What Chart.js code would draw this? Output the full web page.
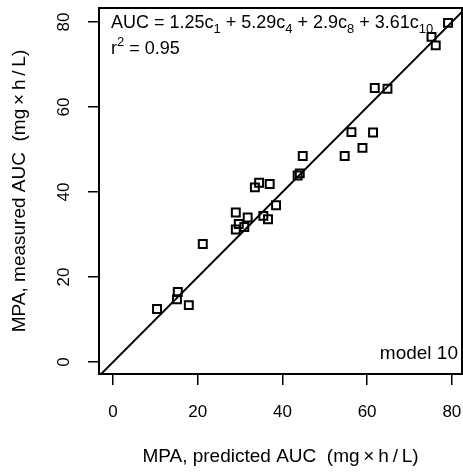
<!DOCTYPE html>
<html>
<head>
<meta charset="utf-8">
<script src="https://cdn.jsdelivr.net/npm/chart.js@4.4.1/dist/chart.umd.min.js"></script>
<style>
  html, body { margin: 0; padding: 0; background: #fff; }
</style>
</head>
<body>
<canvas id="chart" width="463" height="474"></canvas>
<script>
// predicted vs measured MPA AUC (mg x h/L)
const predicted = [79.1, 75.2, 76.2, 61.8, 64.8, 56.3, 61.4, 58.9, 54.7, 44.8,
                   43.6, 44.1, 34.5, 33.5, 37.0, 38.5, 29.0, 31.8, 35.5, 36.6,
                   29.7, 31.0, 29.0, 21.2, 15.3, 15.1, 17.9, 10.4];
const measured  = [79.8, 76.5, 74.5, 64.5, 64.3, 54.1, 54.0, 50.4, 48.5, 48.5,
                   43.9, 44.4, 42.2, 41.1, 41.9, 36.9, 35.2, 34.0, 34.4, 33.6,
                   32.5, 31.8, 31.2, 27.8, 16.5, 14.8, 13.4, 12.5];
const xTicks = [0, 20, 40, 60, 80];
const yTicks = [0, 20, 40, 60, 80];
const xRange = [-3.3, 82.4];
const yRange = [-2.8, 83.3];
const identityLine = [-10, 100];

const FONT = '"Liberation Sans", Arial, Helvetica, sans-serif';
Chart.defaults.font.family = FONT;
Chart.defaults.color = '#000';

// draw text pieces with sub/superscripts
function drawRich(ctx, x, y, parts, size) {
  parts.forEach(p => {
    const small = p.sub || p.sup;
    const fs = small ? Math.round(size * 0.7) : size;
    ctx.font = fs + 'px ' + FONT;
    const dy = p.sub ? size * 0.3 : p.sup ? -size * 0.42 : 0;
    ctx.fillText(p.t, x, y + dy);
    x += ctx.measureText(p.t).width;
  });
}

const boxAndText = {
  id: 'boxAndText',
  afterDraw(chart) {
    const ctx = chart.ctx;
    const a = chart.chartArea;
    ctx.save();
    ctx.strokeStyle = '#000';
    ctx.lineWidth = 2;
    ctx.strokeRect(a.left, a.top, a.right - a.left, a.bottom - a.top);

    ctx.fillStyle = '#000';
    ctx.textBaseline = 'alphabetic';
    ctx.textAlign = 'left';
    drawRich(ctx, 111, 28, [
      {t: 'AUC = 1.25c'}, {t: '1', sub: true},
      {t: ' + 5.29c'}, {t: '4', sub: true},
      {t: ' + 2.9c'}, {t: '8', sub: true},
      {t: ' + 3.61c'}, {t: '10', sub: true}
    ], 18);
    drawRich(ctx, 111, 54, [
      {t: 'r'}, {t: '2', sup: true}, {t: ' = 0.95'}
    ], 18);

    ctx.font = '19px ' + FONT;
    ctx.textAlign = 'right';
    ctx.fillText('model 10', 458, 359);
    ctx.restore();
  }
};

new Chart(document.getElementById('chart').getContext('2d'), {
  type: 'scatter',
  data: {
    datasets: [
      {
        label: 'observations',
        data: predicted.map((x, i) => ({x: x, y: measured[i]})),
        pointStyle: 'rect',
        pointRadius: 5.6,
        pointHoverRadius: 5.6,
        borderWidth: 2,
        borderColor: '#000',
        backgroundColor: 'rgba(0,0,0,0)'
      },
      {
        type: 'line',
        label: 'identity',
        data: identityLine.map(v => ({x: v, y: v})),
        borderColor: '#000',
        borderWidth: 2,
        pointRadius: 0,
        fill: false
      }
    ]
  },
  options: {
    responsive: false,
    animation: false,
    devicePixelRatio: 1,
    layout: { autoPadding: false, padding: { top: 8, right: 1, left: 0, bottom: 0 } },
    plugins: {
      legend: { display: false },
      tooltip: { enabled: false }
    },
    scales: {
      x: {
        type: 'linear',
        min: xRange[0],
        max: xRange[1],
        afterBuildTicks: s => { s.ticks = xTicks.map(v => ({value: v})); },
        afterFit: s => { s.height = 100; s.paddingLeft = 0; s.paddingRight = 0; },
        border: { display: false },
        grid: { drawOnChartArea: false, drawTicks: true, tickLength: 11, color: '#000', lineWidth: 1.5 },
        ticks: { color: '#000', font: { size: 17 }, padding: 17, maxRotation: 0 },
        title: {
          display: true,
          text: 'MPA, predicted AUC  (mg\u2009\u00d7\u2009h\u2009/\u2009L)',
          color: '#000',
          font: { size: 19 },
          padding: { top: 0, bottom: 6 }
        }
      },
      y: {
        type: 'linear',
        min: yRange[0],
        max: yRange[1],
        afterBuildTicks: s => { s.ticks = yTicks.map(v => ({value: v})); },
        afterFit: s => { s.width = 99; s.paddingTop = 0; s.paddingBottom = 0; },
        border: { display: false },
        grid: { drawOnChartArea: false, drawTicks: true, tickLength: 11, color: '#000', lineWidth: 1.5 },
        ticks: { color: '#000', font: { size: 17 }, padding: 14, minRotation: 90, maxRotation: 90, crossAlign: 'center' },
        title: {
          display: true,
          text: 'MPA, measured AUC  (mg\u2009\u00d7\u2009h\u2009/\u2009L)',
          color: '#000',
          font: { size: 19 },
          padding: { top: 8, bottom: 0 }
        }
      }
    }
  },
  plugins: [boxAndText]
});
</script>
</body>
</html>
